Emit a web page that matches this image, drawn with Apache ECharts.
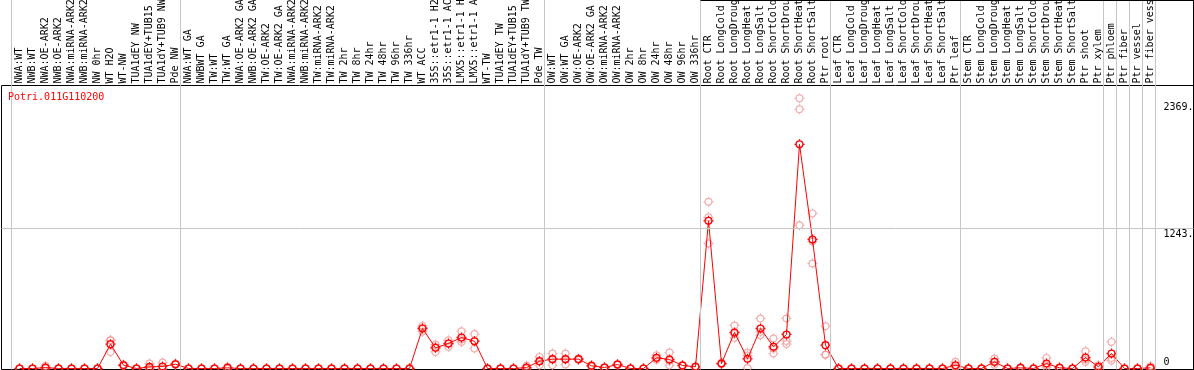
<!DOCTYPE html>
<html>
<head>
<meta charset="utf-8">
<script src="https://cdn.jsdelivr.net/npm/echarts@6/dist/echarts.min.js"></script>
<style>
html,body{margin:0;padding:0;background:#fff;}
#chart{width:1194px;height:370px;}
</style>
</head>
<body>
<div id="chart"></div>
<script>
const seriesName = 'Potri.011G110200';

const categories = [
  'NWA:WT','NWB:WT','NWA:OE-ARK2','NWB:OE-ARK2','NWA:miRNA-ARK2','NWB:miRNA-ARK2','NW 0hr','WT H2O','WT-NW','TUA1dEY NW','TUA1dEY+TUB15 NW','TUA1dY+TUB9 NW','Pde NW',
  'NWA:WT GA','NWBWT GA','TW:WT','TW:WT GA','NWA:OE-ARK2 GA','NWB:OE-ARK2 GA','TW:OE-ARK2','TW:OE-ARK2 GA','NWA:miRNA-ARK2','NWB:miRNA-ARK2','TW:miRNA-ARK2','TW:miRNA-ARK2',
  'TW 2hr','TW 8hr','TW 24hr','TW 48hr','TW 96hr','TW 336hr','WT ACC','35S::etr1-1 H2O','35S::etr1-1 ACC','LMX5::etr1-1 H2O','LMX5::etr1-1 ACC','WT-TW','TUA1dEY TW','TUA1dEY+TUB15 TW','TUA1dY+TUB9 TW','Pde TW',
  'OW:WT','OW:WT GA','OW:OE-ARK2','OW:OE-ARK2 GA','OW:miRNA-ARK2','OW:miRNA-ARK2','OW 2hr','OW 8hr','OW 24hr','OW 48hr','OW 96hr','OW 336hr',
  'Root CTR','Root LongCold','Root LongDrought','Root LongHeat','Root LongSalt','Root ShortCold','Root ShortDrought','Root ShortHeat','Root ShortSalt','Ptr root',
  'Leaf CTR','Leaf LongCold','Leaf LongDrought','Leaf LongHeat','Leaf LongSalt','Leaf ShortCold','Leaf ShortDrought','Leaf ShortHeat','Leaf ShortSalt','Ptr leaf',
  'Stem CTR','Stem LongCold','Stem LongDrought','Stem LongHeat','Stem LongSalt','Stem ShortCold','Stem ShortDrought','Stem ShortHeat','Stem ShortSalt','Ptr shoot','Ptr xylem',
  'Ptr phloem','Ptr fiber','Ptr vessel','Ptr fiber vessel'
];

const meanValues = [
  0,0,8,0,0,0,0,216,29,0,14,18,38,
  0,0,0,6,0,0,0,0,0,0,0,0,0,0,0,0,0,0,355,183,222,275,242,0,0,0,8,65,
  83,83,83,24,9,35,0,0,95,80,27,15,
  1310,44,320,86,355,192,302,1989,1145,207,
  0,0,0,0,0,0,0,0,0,29,
  0,0,59,0,6,0,44,6,0,97,15,
  133,0,0,6
];

const rep1 = [
  0,0,23,0,0,0,0,251,35,0,44,53,45,
  0,0,0,15,0,0,0,0,0,0,0,0,0,0,0,0,0,0,378,213,251,331,305,0,0,0,24,103,
  133,133,88,30,12,40,0,0,118,142,30,18,
  1479,50,382,139,444,266,444,2397,1376,375,
  0,0,0,0,0,0,0,0,0,59,
  0,0,88,0,12,0,94,10,0,153,29,
  236,0,0,21
];

const rep2 = [
  0,0,0,0,0,0,0,250,25,0,0,0,35,
  0,0,0,3,0,0,0,0,0,0,0,0,0,0,0,0,0,0,360,190,222,258,243,0,0,0,0,63,
  87,81,83,22,8,35,0,0,90,69,27,15,
  1341,44,306,115,325,177,245,2300,1127,124,
  0,0,0,0,0,0,0,0,0,20,
  0,0,55,0,5,0,29,5,0,79,10,
  93,0,0,0
];

const rep3 = [
  0,0,2,0,0,0,0,147,27,0,0,0,34,
  0,0,0,0,0,0,0,0,0,0,0,0,0,0,0,0,0,0,327,147,192,236,178,0,0,0,0,29,
  29,35,78,20,7,30,0,0,77,29,24,12,
  1110,38,272,4,296,133,217,1270,932,122,
  0,0,0,0,0,0,0,0,0,8,
  0,0,34,0,1,0,9,3,0,59,6,
  70,0,0,0
];

const yTickValues = [0, 1243, 2369];
const yTickLabels = ['0', '1243.', '2369.'];
const groupBoundaries = [0, 13, 41, 53, 63, 73, 84, 85, 86, 87, 88];

const RED = '#ff0000';
const PINK = '#f09a9a';
const GRIDGREY = '#c6c6c6';
const FONT = 'DejaVu Sans Mono';
const markerPath = 'path://M5,0V1.6M5,8.4V10M0,5H1.6M8.4,5H10M8.4,5A3.4,3.4,0,1,1,1.6,5A3.4,3.4,0,1,1,8.4,5Z';

const X_MIN = (1.5 - 19.5) / 13;
const X_MAX = (1193.5 - 19.5) / 13;
const Y_MIN = -8.9;
const Y_MAX = 2511;

const idx = categories.map((_, i) => i);
const repPoints = [];
[rep1, rep2, rep3].forEach(arr => arr.forEach((v, i) => repPoints.push([i, v])));

const chart = echarts.init(document.getElementById('chart'), null, {renderer: 'canvas'});
chart.setOption({
  animation: false,
  backgroundColor: '#fff',
  title: {
    text: seriesName, left: 8, top: 92, padding: 0,
    textStyle: {color: RED, fontSize: 10, fontWeight: 'normal', fontFamily: FONT}
  },
  grid: [
    {left: 1.5, right: 0.5, top: 85.5, bottom: 0.5, show: true, borderColor: '#000', borderWidth: 1, backgroundColor: 'transparent', containLabel: false, outerBoundsMode: 'none'},
    {left: 1.5, right: 0.5, top: 0, bottom: 0.5, show: false, containLabel: false, outerBoundsMode: 'none'}
  ],
  xAxis: [
    {
      type: 'value', gridIndex: 0, position: 'top', min: X_MIN, max: X_MAX,
      axisLine: {show: false, onZero: false}, axisTick: {show: false}, splitLine: {show: false},
      axisLabel: {
        customValues: idx, rotate: -90, margin: 2, padding: [0, 0, 5, 0],
        color: '#000', fontSize: 10, fontFamily: FONT,
        formatter: v => categories[Math.round(v)]
      }
    },
    {
      type: 'value', gridIndex: 1, min: X_MIN, max: X_MAX, show: false,
      axisLine: {onZero: false}
    }
  ],
  yAxis: [
    {
      type: 'value', gridIndex: 0, position: 'right', min: Y_MIN, max: Y_MAX,
      axisLine: {show: false, onZero: false}, axisTick: {show: false}, splitLine: {show: false},
      axisLabel: {
        customValues: yTickValues, inside: true, align: 'left', margin: 30,
        verticalAlign: 'middle',
        color: '#000', fontSize: 10, fontFamily: FONT,
        formatter: v => {
          const k = yTickValues.indexOf(v);
          const t = k >= 0 ? yTickLabels[k] : '';
          return v === 0 ? '{b|' + t + '}' : '{a|' + t + '}';
        },
        rich: {
          a: {fontSize: 10, fontFamily: FONT, color: '#000', padding: [11, 0, 0, 0]},
          b: {fontSize: 10, fontFamily: FONT, color: '#000', padding: [0, 0, 12, 0]}
        }
      }
    },
    {
      type: 'value', gridIndex: 1, position: 'right', min: 0, max: 1,
      axisLine: {show: true, onZero: false, lineStyle: {color: '#000', width: 1}},
      axisTick: {show: false}, axisLabel: {show: false}, splitLine: {show: false}
    }
  ],
  series: [
    {
      type: 'line', xAxisIndex: 1, yAxisIndex: 1, data: [[0, -1]], symbol: 'none',
      lineStyle: {width: 0}, silent: true, z: 1,
      markLine: {
        silent: true, symbol: 'none', label: {show: false},
        lineStyle: {color: GRIDGREY, type: 'solid', width: 1},
        data: groupBoundaries.map(k => ({xAxis: k - 8 / 13})).concat([
          [
            {coord: [groupBoundaries[3] - 8 / 13, 1], lineStyle: {color: '#000', width: 2}},
            {coord: [X_MAX, 1]}
          ]
        ])
      }
    },
    {
      type: 'line', xAxisIndex: 0, yAxisIndex: 0, data: [[0, -100]], symbol: 'none',
      lineStyle: {width: 0}, silent: true, z: 1,
      markLine: {
        silent: true, symbol: 'none', label: {show: false},
        lineStyle: {color: GRIDGREY, type: 'solid', width: 1},
        data: [{yAxis: yTickValues[1]}]
      }
    },
    {
      name: seriesName + ' replicates', type: 'scatter', xAxisIndex: 0, yAxisIndex: 0,
      data: repPoints, symbol: markerPath, symbolSize: 10, z: 2,
      itemStyle: {color: 'rgba(0,0,0,0)', borderColor: PINK, borderWidth: 1.2}
    },
    {
      name: seriesName, type: 'line', xAxisIndex: 0, yAxisIndex: 0,
      data: idx.map(i => [i, meanValues[i]]), showAllSymbol: true,
      symbol: markerPath, symbolSize: 10, z: 3,
      lineStyle: {color: RED, width: 1},
      itemStyle: {color: 'rgba(0,0,0,0)', borderColor: RED, borderWidth: 1.3}
    }
  ]
});
</script>
</body>
</html>
